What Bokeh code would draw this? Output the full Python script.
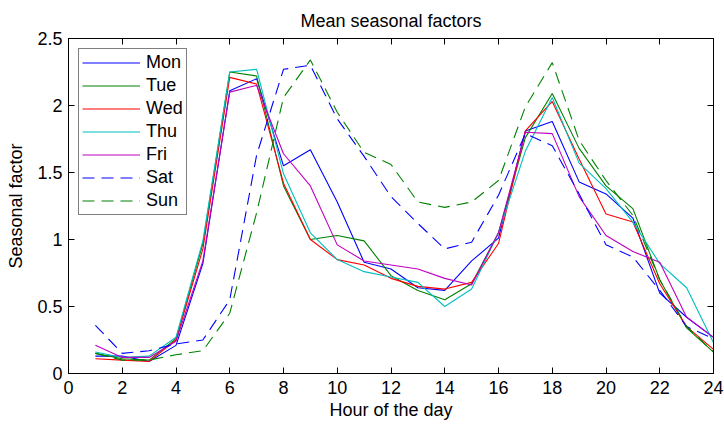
from bokeh.plotting import figure
from bokeh.models import (FixedTicker, LinearAxis, CustomJSTickFormatter, Legend,
                          LegendItem, Range1d)
from bokeh.embed import file_html
from bokeh.resources import INLINE

# Hourly mean seasonal factors per weekday
hours = list(range(1, 25))
mon = [0.13, 0.13, 0.09, 0.21, 0.82, 2.11, 2.20, 1.55, 1.67, 1.28, 0.83, 0.78,
       0.64, 0.62, 0.84, 1.01, 1.81, 1.88, 1.43, 1.34, 1.16, 0.60, 0.42, 0.27]
tue = [0.15, 0.11, 0.10, 0.26, 0.97, 2.25, 2.22, 1.40, 1.00, 1.03, 0.99, 0.73,
       0.62, 0.55, 0.67, 1.05, 1.76, 2.09, 1.68, 1.40, 1.23, 0.70, 0.34, 0.16]
wed = [0.11, 0.10, 0.09, 0.25, 0.93, 2.21, 2.16, 1.42, 1.00, 0.85, 0.81, 0.71,
       0.65, 0.63, 0.68, 0.97, 1.81, 2.03, 1.60, 1.19, 1.13, 0.67, 0.35, 0.18]
thu = [0.16, 0.12, 0.13, 0.27, 0.99, 2.25, 2.27, 1.49, 1.05, 0.85, 0.76, 0.72,
       0.68, 0.50, 0.63, 1.05, 1.66, 2.06, 1.57, 1.38, 1.13, 0.82, 0.64, 0.23]
fri = [0.21, 0.12, 0.12, 0.24, 0.84, 2.10, 2.15, 1.64, 1.40, 0.96, 0.84, 0.81,
       0.78, 0.71, 0.66, 1.05, 1.80, 1.79, 1.32, 1.03, 0.91, 0.83, 0.42, 0.27]
sat = [0.36, 0.15, 0.17, 0.22, 0.25, 0.55, 1.63, 2.27, 2.30, 1.90, 1.62, 1.32,
       1.12, 0.93, 0.98, 1.33, 1.79, 1.70, 1.34, 0.96, 0.87, 0.62, 0.35, 0.26]
sun = [0.15, 0.10, 0.10, 0.14, 0.17, 0.45, 1.20, 2.06, 2.34, 1.95, 1.65, 1.56,
       1.28, 1.24, 1.28, 1.44, 1.99, 2.32, 1.74, 1.44, 1.18, 0.70, 0.35, 0.16]

day_names = ["Mon", "Tue", "Wed", "Thu", "Fri", "Sat", "Sun"]
x_ticks = list(range(0, 25, 2))
y_ticks = [0, 0.5, 1, 1.5, 2, 2.5]

FONT = "Liberation Sans"

series = [mon, tue, wed, thu, fri, sat, sun]
colors = ["#0000ff", "#008000", "#ff0000", "#00bfbf", "#bf00bf", "#0000ff", "#008000"]
dashes = ["solid"] * 5 + ["12 7", "12 7"]

p = figure(width=724, height=424, output_backend="svg", toolbar_location=None,
           x_range=Range1d(0, 24), y_range=Range1d(0, 2.5),
           x_axis_label="Hour of the day", y_axis_label="Seasonal factor",
           min_border_left=68, min_border_right=11, min_border_top=38,
           min_border_bottom=51)

p.title.text = "Mean seasonal factors"
p.title.text_font = FONT
p.title.text_font_size = "18px"
p.title.text_font_style = "normal"
p.title.text_color = "black"
p.title.align = "center"
p.title.standoff = 16

p.xgrid.visible = False
p.ygrid.visible = False
p.outline_line_color = "black"
p.outline_line_width = 1
p.background_fill_color = "white"
p.border_fill_color = "white"

num_fmt = CustomJSTickFormatter(code="return tick.toString();")
blank_fmt = CustomJSTickFormatter(code="return '';")

for ax, ticks in ((p.xaxis[0], x_ticks), (p.yaxis[0], y_ticks)):
    ax.ticker = FixedTicker(ticks=ticks)
    ax.formatter = num_fmt
    ax.major_tick_in = 6
    ax.major_tick_out = 0
    ax.minor_tick_line_color = None
    ax.axis_line_color = "black"
    ax.major_tick_line_color = "black"
    ax.major_label_text_font = FONT
    ax.major_label_text_font_size = "18px"
    ax.major_label_text_color = "black"
    ax.axis_label_text_font = FONT
    ax.axis_label_text_font_size = "18px"
    ax.axis_label_text_font_style = "normal"
    ax.axis_label_text_color = "black"

p.xaxis[0].major_label_standoff = 7
p.xaxis[0].axis_label_standoff = 3
p.yaxis[0].major_label_standoff = 6
p.yaxis[0].axis_label_standoff = 8

# Box ticks on the top and right edges
top_ax = LinearAxis(ticker=FixedTicker(ticks=x_ticks), formatter=blank_fmt,
                    major_tick_in=6, major_tick_out=0, minor_tick_line_color=None,
                    major_label_text_font_size="1px", major_label_standoff=0,
                    axis_line_color="black")
right_ax = LinearAxis(ticker=FixedTicker(ticks=y_ticks), formatter=blank_fmt,
                      major_tick_in=6, major_tick_out=0, minor_tick_line_color=None,
                      major_label_text_font_size="1px", major_label_standoff=0,
                      axis_line_color="black")
p.add_layout(top_ax, "above")
p.add_layout(right_ax, "right")

items = []
for name, vals, col, dash in zip(day_names, series, colors, dashes):
    r = p.line(hours, vals, line_color=col, line_width=1.1, line_dash=dash)
    items.append(LegendItem(label=name, renderers=[r]))

legend = Legend(items=items, location="top_left")
legend.margin = 10
legend.padding = 3
legend.spacing = 2
legend.glyph_width = 58
legend.glyph_height = 21
legend.label_height = 21
legend.label_standoff = 6
legend.label_text_font = FONT
legend.label_text_font_size = "18px"
legend.label_text_color = "black"
legend.border_line_color = "black"
legend.border_line_width = 1
legend.background_fill_color = "white"
legend.background_fill_alpha = 1
p.add_layout(legend)

open("out.html", "w").write(file_html(p, INLINE))
